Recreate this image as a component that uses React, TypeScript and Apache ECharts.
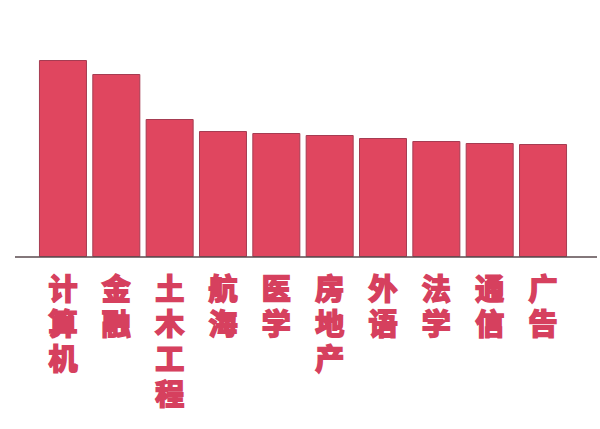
import React, { useEffect, useRef } from "react";
import * as echarts from "echarts";

const categories = ["计算机", "金融", "土木工程", "航海", "医学", "房地产", "外语", "法学", "通信", "广告"];
const values = [197, 183, 138, 126, 124, 122, 119, 116, 114, 113];
const yMax = 200;

const BAR = "#e0465f";
const TEXT = "#d6405e";

export default function App() {
  const ref = useRef<HTMLDivElement>(null);
  useEffect(() => {
    document.body.style.margin = "0";
    const chart = echarts.init(ref.current!, undefined, { renderer: "svg" });
    chart.setOption({
      animation: false,
      backgroundColor: "#ffffff",
      grid: { left: 36.3, right: 30.3, top: 57, bottom: 172, containLabel: false },
      xAxis: {
        type: "category",
        data: categories,
        axisLine: { show: false },
        axisTick: { show: false },
        axisLabel: {
          interval: 0,
          margin: 12,
          color: TEXT,
          fontSize: 29,
          lineHeight: 35,
          fontWeight: "bold",
          fontFamily: "Noto Sans CJK SC",
          verticalAlign: "top",
          textBorderColor: TEXT,
          textBorderWidth: 1.8,
          formatter: (v: string) => v.split("").join("\n"),
        },
      },
      yAxis: {
        type: "value",
        min: 0,
        max: yMax,
        show: false,
        splitLine: { show: false },
      },
      graphic: [
        {
          type: "line",
          shape: { x1: 15, y1: 257, x2: 597, y2: 257 },
          style: { stroke: "#5a4a4e", lineWidth: 1.5 },
          z: 10,
        },
      ],
      series: [
        {
          type: "bar",
          data: values,
          barCategoryGap: "10%",
          itemStyle: { color: BAR, borderColor: "#a63c52", borderWidth: 1 },
        },
      ],
    });
    return () => chart.dispose();
  }, []);
  return <div ref={ref} style={{ width: 600, height: 429 }} />;
}
